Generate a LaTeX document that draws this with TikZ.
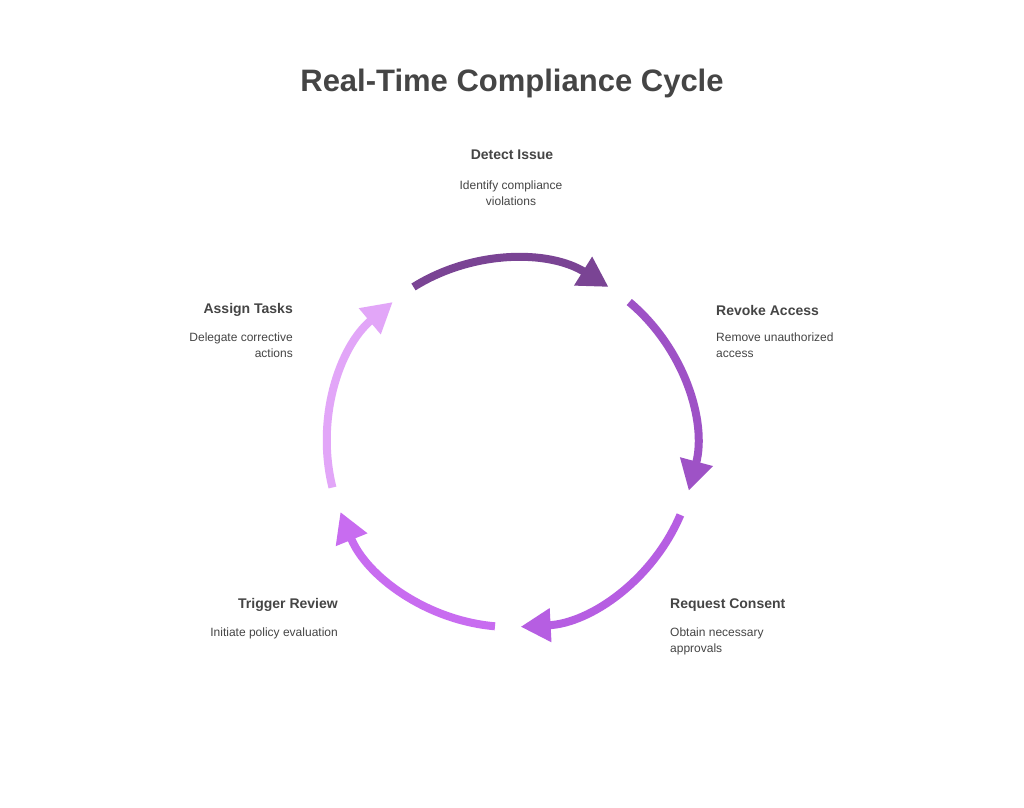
\documentclass[tikz,border=0pt]{standalone}
\usepackage{fontspec}
\setmainfont{Liberation Sans}
\usetikzlibrary{arrows.meta}
\definecolor{txt}{HTML}{454545}
\definecolor{cA}{HTML}{7A4494}
\definecolor{cB}{HTML}{9E52C6}
\definecolor{cC}{HTML}{B65EE2}
\definecolor{cD}{HTML}{C86CF0}
\definecolor{cE}{HTML}{E2A6F8}
\begin{document}
\begin{tikzpicture}[x=1pt,y=1pt,
  ttl/.style={font=\bfseries\fontsize{14}{16}\selectfont,text=txt,inner sep=0},
  dsc/.style={font=\fontsize{12}{15.5}\selectfont,text=txt,inner sep=0},
  seg/.style={line width=8,-{Triangle[length=30,width=32]}}]
\useasboundingbox[fill=white] (0,0) rectangle (1024,807);
\node[font=\bfseries\fontsize{31}{36}\selectfont,text=txt] (title) at (512,724) {Real-Time Compliance Cycle};
\coordinate (c) at (511,364);
\draw[seg,cA] (c) ++(122:184) arc[start angle=122,end angle=58,radius=184];
\draw[seg,cB] (c) ++(50:184) arc[start angle=50,end angle=-15,radius=184];
\draw[seg,cC] (c) ++(-23:184) arc[start angle=-23,end angle=-87,radius=184];
\draw[seg,cD] (c) ++(-95:184) arc[start angle=-95,end angle=-158,radius=184];
\draw[seg,cE] (c) ++(194:184) arc[start angle=194,end angle=130,radius=184];
\node[ttl] (t1) at (512,652) {Detect Issue};
\node[dsc,align=center] (d1) at (511,614) {Identify compliance\\violations};
\node[ttl,anchor=west] (t2) at (716,497) {Revoke Access};
\node[dsc,align=left,anchor=north west] (d2) at (716,474) {Remove unauthorized\\access};
\node[ttl,anchor=west] (t3) at (670,202) {Request Consent};
\node[dsc,align=left,anchor=north west] (d3) at (670,179) {Obtain necessary\\approvals};
\node[ttl,anchor=east] (t4) at (338,202) {Trigger Review};
\node[dsc,anchor=north east] (d4) at (338,179) {Initiate policy evaluation};
\node[ttl,anchor=east] (t5) at (293,497) {Assign Tasks};
\node[dsc,align=right,anchor=north east] (d5) at (293,474) {Delegate corrective\\actions};
\end{tikzpicture}
\end{document}
